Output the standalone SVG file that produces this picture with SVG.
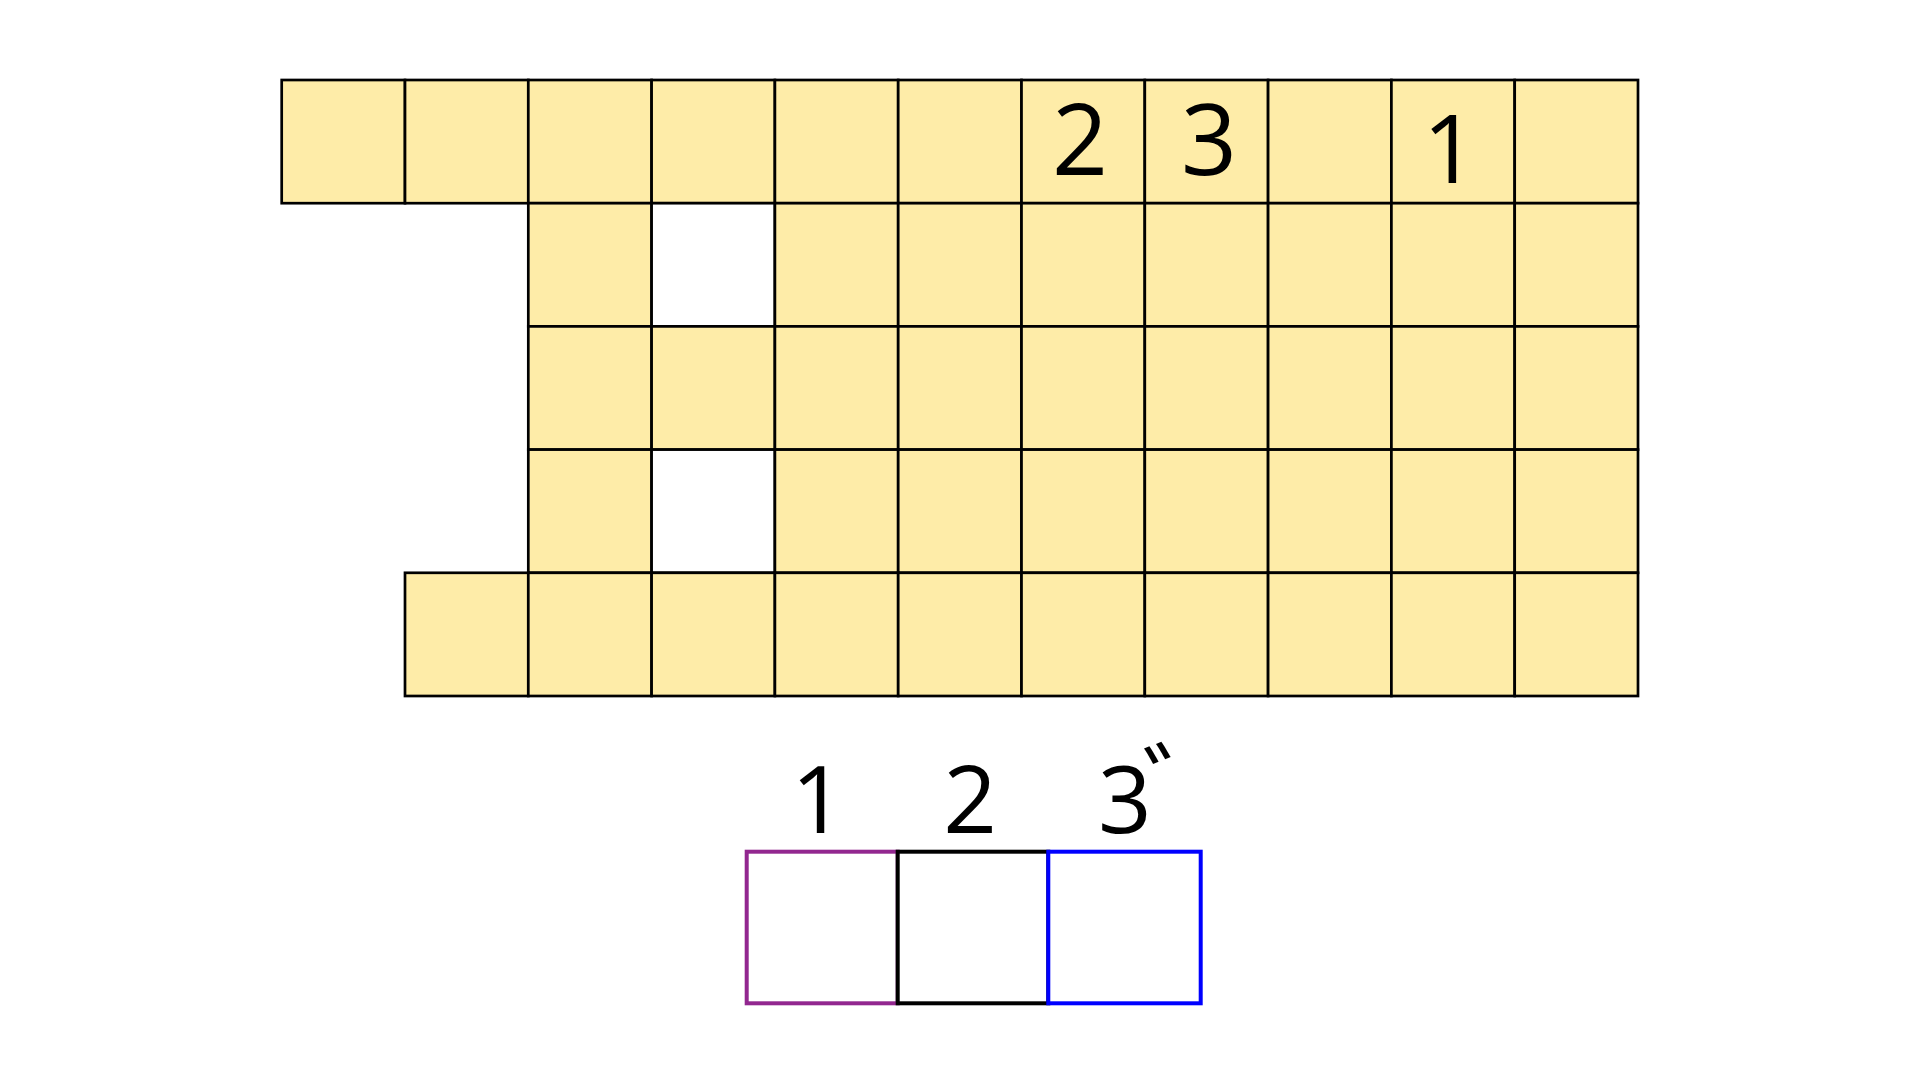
<svg xmlns="http://www.w3.org/2000/svg" width="1920" height="1080" viewBox="0 0 1920 1080">
<style>
.c{fill:#FEECA8;stroke:#000;stroke-width:2.7}
.w{fill:#fff;stroke:#000;stroke-width:2.7}
.t{font-family:"Open Sans","Noto Sans",sans-serif;fill:#000;text-anchor:middle}
.b{fill:#fff;stroke-width:4}
</style>
<rect width="1920" height="1080" fill="#fff"/>
<g id="grid">
<g id="row0">
<rect class="c" x="281.7" y="80" width="123.3" height="123.2"/>
<rect class="c" x="405" y="80" width="123.3" height="123.2"/>
<rect class="c" x="528.3" y="80" width="123.3" height="123.2"/>
<rect class="c" x="651.6" y="80" width="123.3" height="123.2"/>
<rect class="c" x="774.9" y="80" width="123.3" height="123.2"/>
<rect class="c" x="898.2" y="80" width="123.3" height="123.2"/>
<rect class="c" x="1021.5" y="80" width="123.3" height="123.2"/>
<rect class="c" x="1144.8" y="80" width="123.3" height="123.2"/>
<rect class="c" x="1268.1" y="80" width="123.3" height="123.2"/>
<rect class="c" x="1391.4" y="80" width="123.3" height="123.2"/>
<rect class="c" x="1514.7" y="80" width="123.3" height="123.2"/>
</g>
<g id="row1">
<rect class="c" x="528.3" y="203.2" width="123.3" height="123.2"/>
<rect class="w" x="651.6" y="203.2" width="123.3" height="123.2"/>
<rect class="c" x="774.9" y="203.2" width="123.3" height="123.2"/>
<rect class="c" x="898.2" y="203.2" width="123.3" height="123.2"/>
<rect class="c" x="1021.5" y="203.2" width="123.3" height="123.2"/>
<rect class="c" x="1144.8" y="203.2" width="123.3" height="123.2"/>
<rect class="c" x="1268.1" y="203.2" width="123.3" height="123.2"/>
<rect class="c" x="1391.4" y="203.2" width="123.3" height="123.2"/>
<rect class="c" x="1514.7" y="203.2" width="123.3" height="123.2"/>
</g>
<g id="row2">
<rect class="c" x="528.3" y="326.4" width="123.3" height="123.2"/>
<rect class="c" x="651.6" y="326.4" width="123.3" height="123.2"/>
<rect class="c" x="774.9" y="326.4" width="123.3" height="123.2"/>
<rect class="c" x="898.2" y="326.4" width="123.3" height="123.2"/>
<rect class="c" x="1021.5" y="326.4" width="123.3" height="123.2"/>
<rect class="c" x="1144.8" y="326.4" width="123.3" height="123.2"/>
<rect class="c" x="1268.1" y="326.4" width="123.3" height="123.2"/>
<rect class="c" x="1391.4" y="326.4" width="123.3" height="123.2"/>
<rect class="c" x="1514.7" y="326.4" width="123.3" height="123.2"/>
</g>
<g id="row3">
<rect class="c" x="528.3" y="449.6" width="123.3" height="123.2"/>
<rect class="w" x="651.6" y="449.6" width="123.3" height="123.2"/>
<rect class="c" x="774.9" y="449.6" width="123.3" height="123.2"/>
<rect class="c" x="898.2" y="449.6" width="123.3" height="123.2"/>
<rect class="c" x="1021.5" y="449.6" width="123.3" height="123.2"/>
<rect class="c" x="1144.8" y="449.6" width="123.3" height="123.2"/>
<rect class="c" x="1268.1" y="449.6" width="123.3" height="123.2"/>
<rect class="c" x="1391.4" y="449.6" width="123.3" height="123.2"/>
<rect class="c" x="1514.7" y="449.6" width="123.3" height="123.2"/>
</g>
<g id="row4">
<rect class="c" x="405" y="572.8" width="123.3" height="123.2"/>
<rect class="c" x="528.3" y="572.8" width="123.3" height="123.2"/>
<rect class="c" x="651.6" y="572.8" width="123.3" height="123.2"/>
<rect class="c" x="774.9" y="572.8" width="123.3" height="123.2"/>
<rect class="c" x="898.2" y="572.8" width="123.3" height="123.2"/>
<rect class="c" x="1021.5" y="572.8" width="123.3" height="123.2"/>
<rect class="c" x="1144.8" y="572.8" width="123.3" height="123.2"/>
<rect class="c" x="1268.1" y="572.8" width="123.3" height="123.2"/>
<rect class="c" x="1391.4" y="572.8" width="123.3" height="123.2"/>
<rect class="c" x="1514.7" y="572.8" width="123.3" height="123.2"/>
</g>
<g id="grid-labels">
<text class="t" x="1080" y="175" font-size="98">2</text>
<text class="t" x="1209" y="175" font-size="98">3</text>
<text class="t" x="1450" y="183" font-size="95">1</text>
</g>
</g>
<g id="answer">
<g id="box1">
<rect class="b" x="746.7" y="851.7" width="151" height="151.6" stroke="#92278F"/>
<text class="t" x="818" y="833" font-size="94">1</text>
</g>
<g id="box2">
<rect class="b" x="897.7" y="851.7" width="150.6" height="151.6" stroke="#000"/>
<text class="t" x="970" y="833" font-size="94">2</text>
</g>
<g id="box3">
<rect class="b" x="1048.3" y="851.7" width="152.4" height="151.6" stroke="#0000FF"/>
<text x="1098" y="833" font-size="94" font-family="'Open Sans','Noto Sans',sans-serif">3<tspan font-family="'Noto Sans CJK JP',sans-serif" font-size="95" dx="-9" dy="-11">゛</tspan></text>
</g>
</g>
</svg>
